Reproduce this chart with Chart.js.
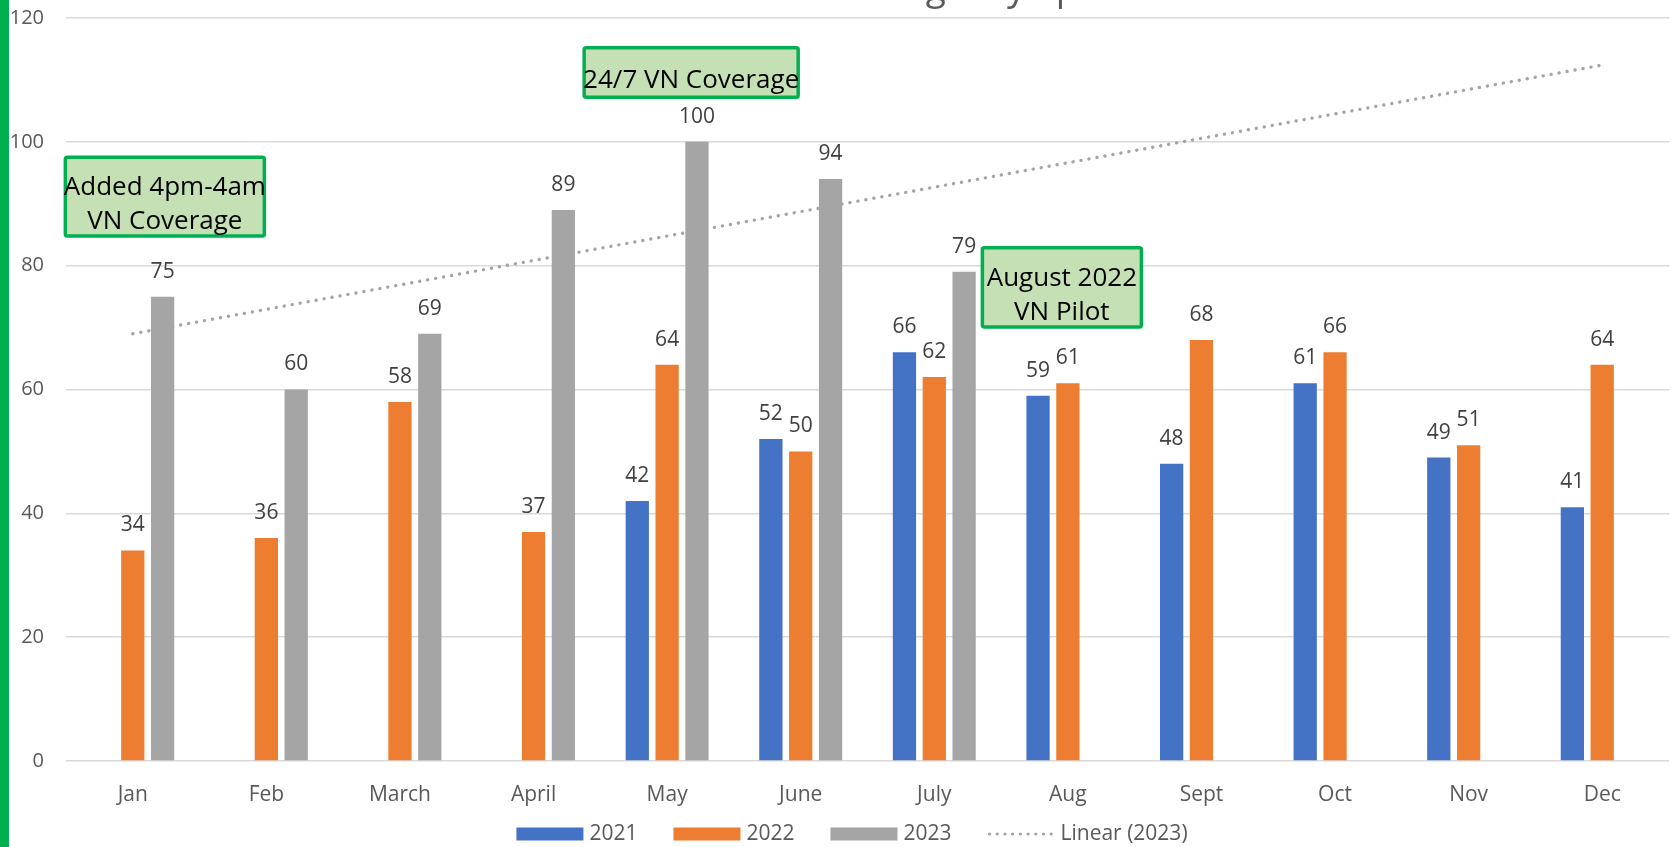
<!DOCTYPE html>
<html>
<head>
<meta charset="utf-8">
<title>VN Coverage chart</title>
<script src="https://cdn.jsdelivr.net/npm/chart.js@4.4.1/dist/chart.umd.min.js"></script>
<style>
  html, body { margin: 0; padding: 0; background: #fff; }
  #wrap { position: relative; width: 1671px; height: 847px; }
  #stripe { position: absolute; left: 0; top: 0; width: 9px; height: 847px; background: #00B050; }
</style>
</head>
<body>
<div id="wrap">
  <canvas id="vnChart" width="1671" height="847"></canvas>
  <div id="stripe"></div>
</div>
<script>
const months = ['Jan', 'Feb', 'March', 'April', 'May', 'June', 'July', 'Aug', 'Sept', 'Oct', 'Nov', 'Dec'];
const data2021 = [null, null, null, null, 42, 52, 66, 59, 48, 61, 49, 41];
const data2022 = [34, 36, 58, 37, 64, 50, 62, 61, 68, 66, 51, 64];
const data2023 = [75, 60, 69, 89, 100, 94, 79, null, null, null, null, null];
// trend line end points (Jan .. Dec)
const trend2023 = [69, null, null, null, null, null, null, null, null, null, null, 112.4];
const yTicks = [0, 20, 40, 60, 80, 100, 120];

// callout boxes: x = category position, top/bottom = value axis
const notes = [
  { lines: ['Added 4pm-4am', 'VN Coverage'], x: 0.24, top: 97.5, bottom: 84.8, w: 199 },
  { lines: ['24/7 VN Coverage'], x: 4.18, top: 115.2, bottom: 107.2, w: 214 },
  { lines: ['August 2022', 'VN Pilot'], x: 6.955, top: 82.9, bottom: 70.1, w: 159 }
];

const FONT = "'Open Sans', 'Noto Sans', sans-serif";

const extrasPlugin = {
  id: 'extras',
  afterDatasetsDraw(chart) {
    const ctx = chart.ctx;
    ctx.save();
    ctx.font = '21px ' + FONT;
    ctx.fillStyle = '#404040';
    ctx.textAlign = 'center';
    ctx.textBaseline = 'middle';
    chart.data.datasets.forEach((ds, i) => {
      if (ds.type === 'line') return;
      const meta = chart.getDatasetMeta(i);
      meta.data.forEach((bar, j) => {
        const v = ds.data[j];
        if (v === null) return;
        ctx.fillText(String(v), bar.x, bar.y - 25);
      });
    });
    ctx.restore();
  },
  afterDraw(chart) {
    const ctx = chart.ctx;
    const xs = chart.scales.x;
    const ys = chart.scales.y;
    ctx.save();

    // title, cut off at the top edge (only descenders show)
    ctx.font = '37px ' + FONT;
    ctx.fillStyle = '#595959';
    ctx.textAlign = 'left';
    ctx.textBaseline = 'alphabetic';
    ctx.fillText('Emergency Episodes', 835, 0);

    // callouts
    notes.forEach(n => {
      const cx = xs.getPixelForValue(n.x);
      const top = ys.getPixelForValue(n.top);
      const bottom = ys.getPixelForValue(n.bottom);
      ctx.fillStyle = '#C5E0B4';
      ctx.strokeStyle = '#00B050';
      ctx.lineWidth = 3.5;
      ctx.beginPath();
      ctx.roundRect(cx - n.w / 2, top, n.w, bottom - top, 2);
      ctx.fill();
      ctx.stroke();
      ctx.fillStyle = '#000';
      ctx.font = '26px ' + FONT;
      ctx.textAlign = 'center';
      ctx.textBaseline = 'middle';
      const mid = (top + bottom) / 2 + 8;
      const lh = 34;
      n.lines.forEach((t, k) => {
        ctx.fillText(t, cx, mid + (k - (n.lines.length - 1) / 2) * lh);
      });
    });

    // legend
    const items = chart.data.datasets.map(ds => ({ label: ds.label, color: ds.type === 'line' ? ds.borderColor : ds.backgroundColor, dots: ds.type === 'line' }));
    ctx.font = '21px ' + FONT;
    const boxW = 67, boxH = 13, gap = 6, itemGap = 36;
    let total = 0;
    items.forEach((it, k) => {
      total += boxW + gap + ctx.measureText(it.label).width + (k < items.length - 1 ? itemGap : 0);
    });
    let x = 852 - total / 2;
    const cy = 834;
    items.forEach(it => {
      if (it.dots) {
        ctx.strokeStyle = it.color;
        ctx.lineWidth = 3.2;
        ctx.lineCap = 'round';
        ctx.setLineDash([0.1, 7.6]);
        ctx.beginPath();
        ctx.moveTo(x + 2, cy);
        ctx.lineTo(x + boxW - 2, cy);
        ctx.stroke();
        ctx.setLineDash([]);
      } else {
        ctx.fillStyle = it.color;
        ctx.fillRect(x, cy - boxH / 2, boxW, boxH);
      }
      x += boxW + gap;
      ctx.fillStyle = '#595959';
      ctx.textAlign = 'left';
      ctx.textBaseline = 'middle';
      ctx.fillText(it.label, x, cy);
      x += ctx.measureText(it.label).width + itemGap;
    });
    ctx.restore();
  }
};

const ctx = document.getElementById('vnChart').getContext('2d');
new Chart(ctx, {
  type: 'bar',
  data: {
    labels: months,
    datasets: [
      { label: '2021', data: data2021, backgroundColor: '#4472C4', order: 1 },
      { label: '2022', data: data2022, backgroundColor: '#ED7D31', order: 1 },
      { label: '2023', data: data2023, backgroundColor: '#A5A5A5', order: 1 },
      {
        type: 'line', label: 'Linear (2023)', data: trend2023, order: 0,
        borderColor: '#A5A5A5', borderWidth: 3.4, borderDash: [0.1, 8], borderCapStyle: 'round',
        pointRadius: 0, spanGaps: true, fill: false
      }
    ]
  },
  options: {
    responsive: false,
    animation: false,
    categoryPercentage: 0.67,
    barPercentage: 0.78,
    layout: { padding: { top: 18, right: 2, left: 0, bottom: 0 } },
    plugins: {
      legend: { display: false },
      title: { display: false },
      tooltip: { enabled: false }
    },
    scales: {
      x: {
        grid: { display: false, drawTicks: false },
        border: { display: false },
        ticks: { color: '#595959', font: { family: FONT, size: 21 }, padding: 21 },
        afterFit: (scale) => { scale.height = 86; }
      },
      y: {
        min: 0,
        max: 120,
        afterBuildTicks: (scale) => { scale.ticks = yTicks.map(v => ({ value: v })); },
        grid: { color: '#D9D9D9', lineWidth: 1.5, drawTicks: false },
        border: { display: false },
        ticks: { color: '#595959', font: { family: FONT, size: 20 }, padding: 22 },
        afterFit: (scale) => {
          scale.width = 66;
          scale.paddingTop = 10;
          scale.paddingBottom = 10;
        }
      }
    }
  },
  plugins: [extrasPlugin]
});
</script>
</body>
</html>
